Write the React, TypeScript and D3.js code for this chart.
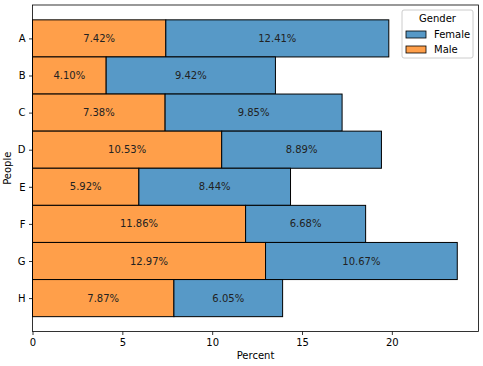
import { useEffect, useRef } from 'react'
import * as d3 from 'd3'

const people = ['A', 'B', 'C', 'D', 'E', 'F', 'G', 'H']
const male = [7.42, 4.10, 7.38, 10.53, 5.92, 11.86, 12.97, 7.87]
const female = [12.41, 9.42, 9.85, 8.89, 8.44, 6.68, 10.67, 6.05]
const xTicks = [0, 5, 10, 15, 20]
const legendItems = [
    { name: 'Female', color: '#5799c7' },
    { name: 'Male', color: '#ff9f4a' },
]

const W = 483
const H = 366
const margin = { left: 32.5, right: 4.5, top: 5, bottom: 34.5 }

export default function App() {
    const ref = useRef<SVGSVGElement>(null)

    useEffect(() => {
        const svg = d3.select(ref.current)
        svg.selectAll('*').remove()
        const font = 'DejaVu Sans, sans-serif'

        const totals = people.map((_, i) => male[i] + female[i])
        const xMax = d3.max(totals)! * 1.05
        const x = d3.scaleLinear().domain([0, xMax]).range([margin.left, W - margin.right])
        const y = d3.scaleLinear().domain([-0.9, 7.9]).range([margin.top, H - margin.bottom])
        const bh = y(0.5) - y(-0.5)

        const g = svg.append('g')

        people.forEach((p, i) => {
            const segs = [
                { x0: 0, x1: male[i], v: male[i], color: '#ff9f4a' },
                { x0: male[i], x1: male[i] + female[i], v: female[i], color: '#5799c7' },
            ]
            segs.forEach(s => {
                g.append('rect')
                    .attr('x', x(s.x0))
                    .attr('y', y(i) - bh / 2)
                    .attr('width', x(s.x1) - x(s.x0))
                    .attr('height', bh)
                    .attr('fill', s.color)
                    .attr('stroke', '#000')
                    .attr('stroke-width', 1)
                g.append('text')
                    .attr('x', (x(s.x0) + x(s.x1)) / 2)
                    .attr('y', y(i))
                    .attr('dy', '0.35em')
                    .attr('text-anchor', 'middle')
                    .attr('font-family', font)
                    .attr('font-size', 10)
                    .attr('fill', '#222')
                    .text(s.v.toFixed(2) + '%')
            })
        })

        // frame
        svg.append('rect')
            .attr('x', margin.left)
            .attr('y', margin.top)
            .attr('width', W - margin.left - margin.right)
            .attr('height', H - margin.top - margin.bottom)
            .attr('fill', 'none')
            .attr('stroke', '#000')
            .attr('stroke-width', 0.8)

        const xAxis = svg.append('g')
            .attr('transform', `translate(0,${H - margin.bottom})`)
            .call(d3.axisBottom(x).tickValues(xTicks).tickSize(3.5).tickPadding(3.5).tickFormat(d3.format('d')))
        xAxis.select('.domain').remove()

        const yAxis = svg.append('g')
            .attr('transform', `translate(${margin.left},0)`)
            .call(d3.axisLeft(y).tickValues(d3.range(people.length)).tickSize(3.5).tickPadding(3.5).tickFormat(d => people[+d]))
        yAxis.select('.domain').remove()

        svg.selectAll('.tick text').attr('font-family', font).attr('font-size', 10).attr('fill', '#000')
        svg.selectAll('.tick line').attr('stroke', '#000').attr('stroke-width', 0.8)

        svg.append('text')
            .attr('x', (margin.left + W - margin.right) / 2)
            .attr('y', 359)
            .attr('text-anchor', 'middle')
            .attr('font-family', font)
            .attr('font-size', 10)
            .text('Percent')

        svg.append('text')
            .attr('transform', `translate(11,${(margin.top + H - margin.bottom) / 2}) rotate(-90)`)
            .attr('text-anchor', 'middle')
            .attr('font-family', font)
            .attr('font-size', 10)
            .text('People')

        // legend
        const lg = svg.append('g').attr('transform', 'translate(402,10)')
        lg.append('rect')
            .attr('width', 71)
            .attr('height', 48)
            .attr('rx', 2)
            .attr('fill', '#fff')
            .attr('fill-opacity', 0.8)
            .attr('stroke', '#ccc')
        lg.append('text')
            .attr('x', 35.5)
            .attr('y', 12)
            .attr('text-anchor', 'middle')
            .attr('font-family', font)
            .attr('font-size', 10)
            .text('Gender')
        legendItems.forEach((it, i) => {
            lg.append('rect')
                .attr('x', 4)
                .attr('y', 21 + i * 15)
                .attr('width', 20)
                .attr('height', 7)
                .attr('fill', it.color)
                .attr('stroke', '#000')
                .attr('stroke-width', 0.8)
            lg.append('text')
                .attr('x', 32)
                .attr('y', 28 + i * 15)
                .attr('font-family', font)
                .attr('font-size', 10)
                .text(it.name)
        })
    })

    return <svg width={W} height={H} ref={ref} style={{ position: 'absolute', left: 0, top: 0 }} />
}
